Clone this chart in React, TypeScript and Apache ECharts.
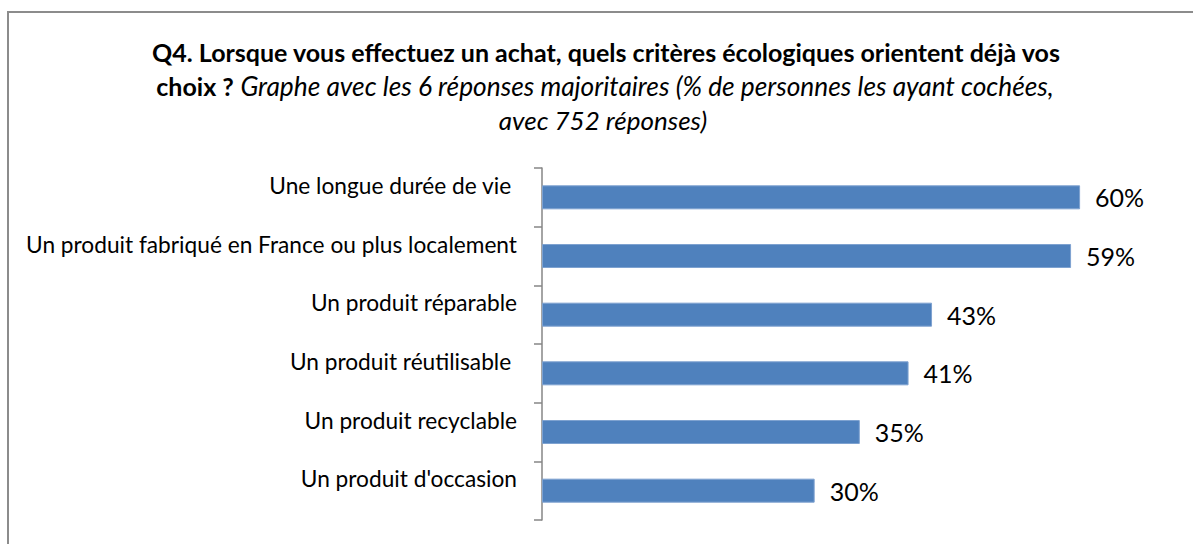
import React, { useEffect, useRef } from "react";
import * as echarts from "echarts";

const categories = [
  "Une longue durée de vie\u00a0",
  "Un produit fabriqué en France ou plus localement",
  "Un produit réparable",
  "Un produit réutilisable\u00a0",
  "Un produit recyclable",
  "Un produit d'occasion",
];
const values = [59.6, 58.6, 43.2, 40.6, 35.2, 30.2];

const titleLine1 = "Q4. Lorsque vous effectuez un achat, quels critères écologiques orientent déjà vos";
const titleLine2Bold = "choix ?";
const titleLine2Italic = "Graphe avec les 6 réponses majoritaires (% de personnes les ayant cochées,";
const titleLine3 = "avec 752 réponses)";

const FONT = "Lato";

export default function App() {
  const ref = useRef<HTMLDivElement>(null);
  useEffect(() => {
    if (!ref.current) return;
    document.body.style.margin = "0";
    const chart = echarts.init(ref.current, null, { renderer: "svg" });
    chart.setOption({
      animation: false,
      backgroundColor: "#ffffff",
      graphic: [
        {
          type: "rect",
          shape: { x: 8, y: 12, width: 1400, height: 1000 },
          style: { fill: "none", stroke: "#8c8c8c", lineWidth: 2 },
          silent: true,
        },
        {
          type: "text",
          x: 606,
          y: 52,
          style: {
            text: titleLine1,
            font: `bold 25px ${FONT}`,
            fill: "#000",
            align: "center",
            verticalAlign: "middle",
          },
        },
        {
          type: "text",
          x: 605,
          y: 86,
          style: {
            text: `{b|${titleLine2Bold}} {i|${titleLine2Italic}}`,
            align: "center",
            verticalAlign: "middle",
            fill: "#000",
            rich: {
              b: { fontFamily: FONT, fontWeight: "bold", fontSize: 25, fill: "#000" },
              i: { fontFamily: FONT, fontStyle: "italic", fontSize: 26.3, fill: "#000" },
            },
            font: `26px ${FONT}`,
          },
        },
        {
          type: "text",
          x: 603,
          y: 120,
          style: {
            text: titleLine3,
            font: `italic 26px ${FONT}`,
            fill: "#000",
            align: "center",
            verticalAlign: "middle",
          },
        },
      ],
      grid: { left: 542, right: 19, top: 168, bottom: 24, containLabel: false },
      xAxis: {
        type: "value",
        min: 0,
        max: 70,
        show: false,
        splitLine: { show: false },
      },
      yAxis: {
        type: "category",
        inverse: true,
        data: categories,
        axisLine: { show: true, lineStyle: { color: "#868686", width: 1.5 } },
        axisTick: { show: true, length: 8, lineStyle: { color: "#868686", width: 1.5 } },
        axisLabel: {
          margin: 25,
          fontFamily: FONT,
          fontSize: 22.7,
          color: "#000",
          verticalAlign: "bottom",
          lineHeight: 24,
        },
      },
      series: [
        {
          type: "bar",
          data: values,
          barWidth: 24,
          itemStyle: { color: "#4F81BD", borderColor: "#7EA2D0", borderWidth: 1 },
          label: {
            show: true,
            position: "right",
            distance: 15,
            fontFamily: FONT,
            fontSize: 25,
            color: "#000",
            formatter: (p: any) => `${Math.round(p.value)}%`,
          },
        },
      ],
    });
    return () => chart.dispose();
  }, []);
  return <div ref={ref} style={{ width: 1193, height: 544 }} />;
}
